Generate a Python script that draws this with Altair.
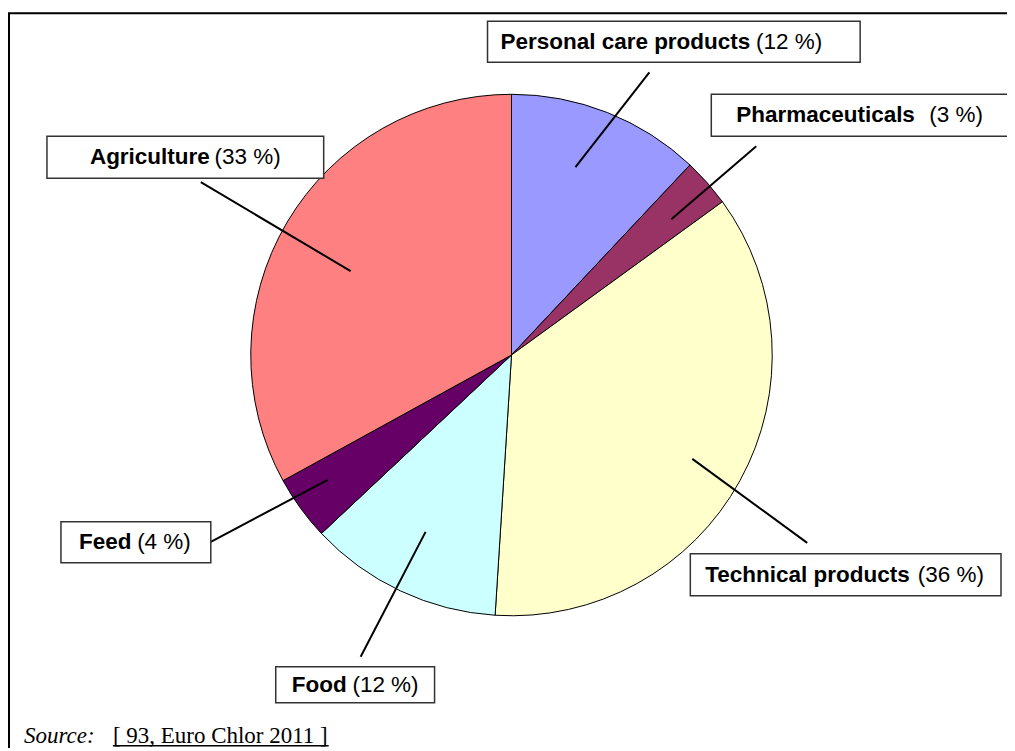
import altair as alt
import pandas as pd

# ---- data ----
categories = ["Personal care products", "Pharmaceuticals", "Technical products",
              "Food", "Feed", "Agriculture"]
shares = [12, 3, 36, 12, 4, 33]
colors = ["#9999FF", "#993366", "#FFFFCC", "#CCFFFF", "#660066", "#FF8080"]
source_label = "Source:"
source_ref = "[ 93, Euro Chlor 2011 ]"

# ---- layout (chart pixel coordinates, page minus 8px margin) ----
W, H = 1000, 740
OFF = 8
box_x1 = [488, 712, 691, 276, 61, 47]
box_x2 = [861, 1011, 1002, 435, 211, 324]
box_y1 = [21, 94, 554, 667, 522, 136]
box_y2 = [62, 136, 596, 703, 563, 178]
txt_start = [501, 737, 706, 292, 79, 90]
txt_end = [823, 984, 985, 419, 191, 281]
lead_x1 = [650, 757, 808, 361, 211, 201]
lead_y1 = [72, 146, 543, 657, 542, 182]
lead_x2 = [576, 672, 693, 426, 328, 351]
lead_y2 = [167, 219, 459, 532, 480, 271]
pie_cx, pie_cy, pie_r = 512, 355, 261

pie_df = pd.DataFrame({"category": categories, "share": shares,
                       "idx": list(range(len(categories)))})

lab_df = pd.DataFrame({
    "category": categories,
    "pct": [f"({s} %)" for s in shares],
    "bx1": [v - OFF for v in box_x1], "bx2": [v - OFF for v in box_x2],
    "by1": [v - OFF for v in box_y1], "by2": [v - OFF for v in box_y2],
    "ts": [v - OFF for v in txt_start], "te": [v - OFF for v in txt_end],
    "ty": [(a + b) / 2 - OFF for a, b in zip(box_y1, box_y2)],
    "lx1": [v - OFF for v in lead_x1], "ly1": [v - OFF for v in lead_y1],
    "lx2": [v - OFF for v in lead_x2], "ly2": [v - OFF for v in lead_y2],
})

xs = alt.Scale(domain=[0, W], nice=False, zero=False)
ys = alt.Scale(domain=[0, H], nice=False, zero=False, reverse=True)


def X(f):
    return alt.X(f, type="quantitative", scale=xs, axis=None)


def Y(f):
    return alt.Y(f, type="quantitative", scale=ys, axis=None)


frame_df = pd.DataFrame({"x": [9 - OFF], "y": [13 - OFF], "x2": [W + 20], "y2": [H + 20]})
frame = alt.Chart(frame_df).mark_rect(fill=None, stroke="black", strokeWidth=2).encode(
    x=X("x"), y=Y("y"), x2="x2", y2="y2")

pie = alt.Chart(pie_df).mark_arc(outerRadius=pie_r, stroke="black", strokeWidth=1).encode(
    theta=alt.Theta("share:Q", stack=True),
    color=alt.Color("category:N", scale=alt.Scale(domain=categories, range=colors), legend=None),
    order=alt.Order("idx:Q"),
    x=alt.value(pie_cx - OFF), y=alt.value(pie_cy - OFF),
)

base = alt.Chart(lab_df)
leaders = base.mark_rule(color="black", strokeWidth=2).encode(
    x=X("lx1"), y=Y("ly1"), x2="lx2", y2="ly2")
boxes = base.mark_rect(fill="white", stroke="#333333", strokeWidth=1.5).encode(
    x=X("bx1"), y=Y("by1"), x2="bx2", y2="by2")
bold_txt = base.mark_text(font="Liberation Sans", fontSize=22.5, fontWeight="bold",
                          align="left", baseline="middle", color="black").encode(
    x=X("ts"), y=Y("ty"), text="category:N")
reg_txt = base.mark_text(font="Liberation Sans", fontSize=22.5,
                         align="right", baseline="middle", color="black").encode(
    x=X("te"), y=Y("ty"), text="pct:N")

src_df = pd.DataFrame({"t1": [source_label], "t2": [source_ref],
                       "x1": [24 - OFF], "x2": [113 - OFF], "y": [743 - OFF],
                       "ux1": [113 - OFF], "ux2": [329 - OFF], "uy": [746 - OFF]})
sbase = alt.Chart(src_df)
src1 = sbase.mark_text(font="Liberation Serif", fontSize=23, fontStyle="italic",
                       align="left", baseline="alphabetic", color="black").encode(
    x=X("x1"), y=Y("y"), text="t1:N")
src2 = sbase.mark_text(font="Liberation Serif", fontSize=23,
                       align="left", baseline="alphabetic", color="black").encode(
    x=X("x2"), y=Y("y"), text="t2:N")
uline = sbase.mark_rule(color="black", strokeWidth=1.5).encode(
    x=X("ux1"), x2="ux2", y=Y("uy"))

chart = alt.layer(frame, pie, leaders, boxes, bold_txt, reg_txt, src1, src2, uline).properties(
    width=W, height=H, padding=0, autosize="none"
).configure_view(strokeWidth=0)

chart.save("out.html", embed_options={"renderer": "svg", "actions": False})
